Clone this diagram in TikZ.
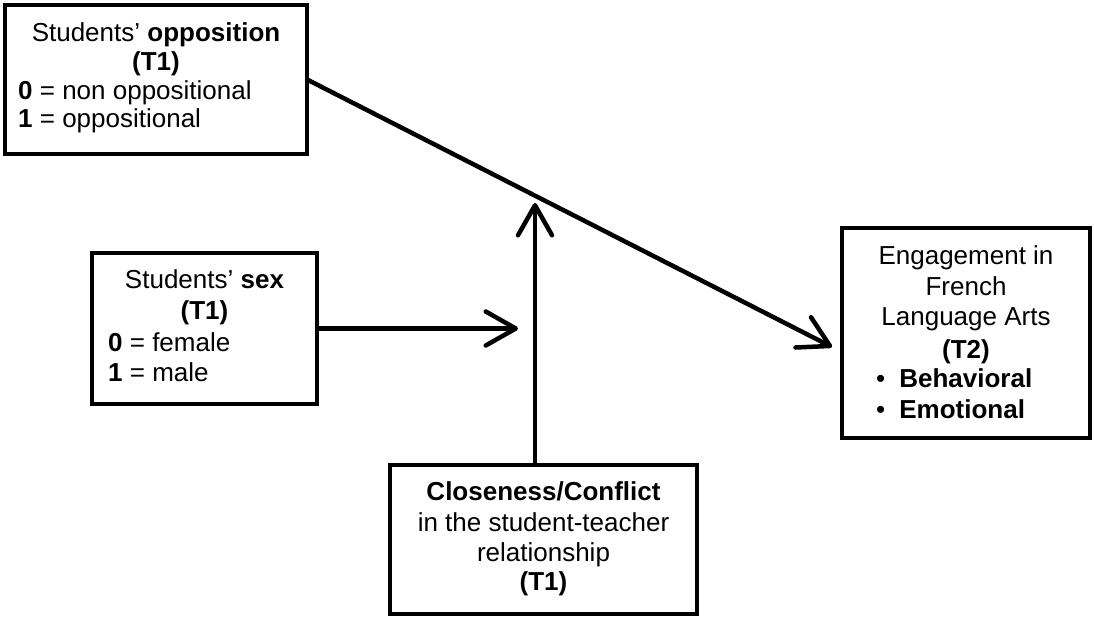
\documentclass[tikz,border=0pt]{standalone}
\usepackage{fontspec}
\setmainfont{Liberation Sans}
\usetikzlibrary{arrows.meta}
\begin{document}
\begin{tikzpicture}[x=1pt,y=-1pt,
  box/.style={draw, line width=4pt, inner sep=0pt, outer sep=0pt},
  txt/.style={inner sep=0pt, anchor=base, font=\fontsize{26}{28}\selectfont},
  txtl/.style={txt, anchor=base west},
  conn/.style={line width=4.5pt, -{Straight Barb[length=30pt,width=34pt,line width=4.5pt,round]}}]
\useasboundingbox (0,0) rectangle (1094,620);
% boxes
\node[box, minimum width=302pt, minimum height=149pt] (opp) at (156,79.5) {};
\node[box, minimum width=225pt, minimum height=151pt] (sex) at (204.5,328.5) {};
\node[box, minimum width=248pt, minimum height=210pt] (eng) at (966,333) {};
\node[box, minimum width=307pt, minimum height=149pt] (close) at (543.5,539.5) {};
% texts box 1
\node[txt] (o1) at (156,42) {Students' \textbf{opposition}};
\node[txt] (o2) at (156,71) {\textbf{(T1)}};
\node[txtl] (o3) at (18,100) {\textbf{0} = non oppositional};
\node[txtl] (o4) at (18,128) {\textbf{1} = oppositional};
% texts sex
\node[txt] (s1) at (204.5,288) {Students' \textbf{sex}};
\node[txt] (s2) at (204.5,319) {\textbf{(T1)}};
\node[txtl] (s3) at (108,351) {\textbf{0} = female};
\node[txtl] (s4) at (108,381) {\textbf{1} = male};
% texts engagement
\node[txt] (e1) at (966,265) {Engagement in};
\node[txt] (e2) at (966,295) {French};
\node[txt] (e3) at (966,325) {Language Arts};
\node[txt] (e4) at (966,358) {\textbf{(T2)}};
\node[txtl] (e5) at (876,387) {•\hspace{14pt}\textbf{Behavioral}};
\node[txtl] (e6) at (876,418) {•\hspace{14pt}\textbf{Emotional}};
% texts closeness
\node[txt] (c1) at (543.5,500) {\textbf{Closeness/Conflict}};
\node[txt] (c2) at (543.5,531) {in the student-teacher};
\node[txt] (c3) at (543.5,561) {relationship};
\node[txt] (c4) at (543.5,590) {\textbf{(T1)}};
% connectors
\coordinate (dtip) at (832,347);
\coordinate (htip) at (518,332);
\coordinate (vtip) at (535,203);
\draw[conn] (opp.east) -- (dtip);
\draw[conn] (sex.east) -- (sex.east -| htip);
\draw[conn] (close.north -| vtip) -- (vtip);
\end{tikzpicture}
\end{document}
